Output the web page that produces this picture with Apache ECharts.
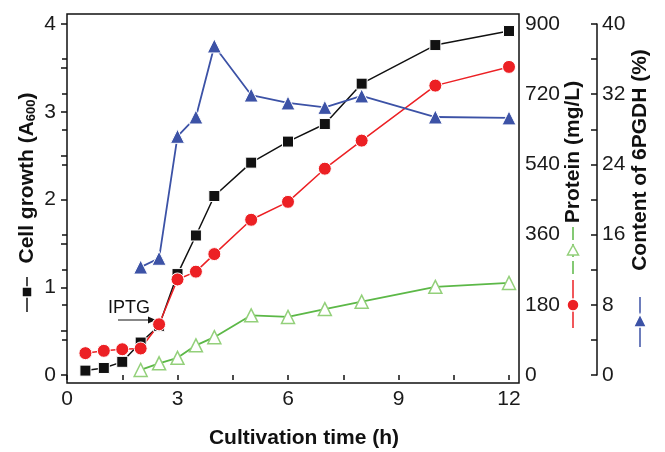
<!DOCTYPE html>
<html>
<head>
<meta charset="utf-8">
<script src="https://cdn.jsdelivr.net/npm/echarts@6/dist/echarts.min.js"></script>
<style>
  html, body { margin: 0; padding: 0; background: #fff; }
  #chart { width: 665px; height: 452px; }
</style>
</head>
<body>
<div id="chart"></div>
<script>
// sampling times (h)
const times = [0.5, 1, 1.5, 2, 2.5, 3, 3.5, 4, 5, 6, 7, 8, 10, 12];
const cellGrowth = [0.05, 0.08, 0.15, 0.37, 0.56, 1.15, 1.59, 2.04, 2.42, 2.66, 2.86, 3.32, 3.76, 3.92];
const totalProtein = [56, 62, 66, 68, 130, 245, 265, 310, 398, 444, 529, 601, 742, 790];
// after induction
const inducedTimes = [2, 2.5, 3, 3.5, 4, 5, 6, 7, 8, 10, 12];
const pgdhProtein = [13, 30, 44, 76, 97, 153, 149, 169, 188, 226, 236];
const pgdhContent = [12.3, 13.3, 27.2, 29.4, 37.5, 31.9, 31.0, 30.5, 31.8, 29.4, 29.3];

const font = 'Liberation Sans, Arial, sans-serif';
const pair = (xs, ys) => xs.map((x, i) => [x, ys[i]]);

const tickLabel = { fontSize: 21, color: '#1a1a1a', fontFamily: font };
const blk = { color: '#111', width: 1.5 };

let option = {
  animation: false,
  grid: { left: 67, right: 156, top: 24, bottom: 77 },
  xAxis: [
    {
      type: 'value', position: 'bottom', offset: 8,
      min: 0, max: 12, interval: 1.5,
      axisLine: { show: false },
      axisTick: { inside: false, length: 5, lineStyle: blk },
      axisLabel: Object.assign({ margin: 6, formatter: v => (v % 3 === 0 ? v : '') }, tickLabel),
      splitLine: { show: false }
    },
    {
      type: 'value', position: 'top', offset: 10,
      min: 0, max: 12, interval: 1.5,
      axisLine: { show: false },
      axisTick: { inside: true, length: 5, lineStyle: blk },
      axisLabel: { show: false },
      splitLine: { show: false }
    }
  ],
  yAxis: [
    {
      type: 'value', position: 'left',
      min: 0, max: 4, interval: 0.5,
      axisLine: { show: false },
      axisTick: { inside: false, length: 6, lineStyle: blk },
      axisLabel: Object.assign({ margin: 11, formatter: v => (v % 1 === 0 ? v : '') }, tickLabel),
      splitLine: { show: false }
    },
    {
      type: 'value', position: 'right', offset: 10,
      min: 0, max: 900, interval: 90,
      axisLine: { show: false },
      axisTick: { inside: true, length: 5, lineStyle: blk },
      axisLabel: Object.assign({ margin: 6, formatter: v => (v % 180 === 0 ? v : '') }, tickLabel),
      splitLine: { show: false }
    },
    {
      type: 'value', position: 'right', offset: 88,
      min: 0, max: 40, interval: 4,
      axisLine: { show: true, lineStyle: blk },
      axisTick: { inside: true, length: 6, lineStyle: blk },
      axisLabel: Object.assign({ margin: 5, formatter: v => (v % 8 === 0 ? v : '') }, tickLabel),
      splitLine: { show: false }
    }
  ],
  series: [
    {
      name: 'Cell growth', type: 'line', yAxisIndex: 0,
      data: pair(times, cellGrowth),
      symbol: 'rect', symbolSize: 11,
      lineStyle: { color: '#111', width: 1.5 },
      itemStyle: { color: '#111', borderColor: '#fff', borderWidth: 1 }
    },
    {
      name: 'Total protein', type: 'line', yAxisIndex: 1,
      data: pair(times, totalProtein),
      symbol: 'circle', symbolSize: 13,
      lineStyle: { color: '#ec2024', width: 1.5 },
      itemStyle: { color: '#ec2024', borderColor: '#fff', borderWidth: 1 }
    },
    {
      name: '6PGDH protein', type: 'line', yAxisIndex: 1,
      data: pair(inducedTimes, pgdhProtein),
      symbol: 'triangle', symbolSize: 13,
      lineStyle: { color: '#5cb847', width: 1.8 },
      itemStyle: { color: '#fff', borderColor: '#93d07a', borderWidth: 1.5 }
    },
    {
      name: 'Content of 6PGDH', type: 'line', yAxisIndex: 2,
      data: pair(inducedTimes, pgdhContent),
      symbol: 'triangle', symbolSize: 14,
      lineStyle: { color: '#3c52a6', width: 1.8 },
      itemStyle: { color: '#3c52a6', borderColor: '#fff', borderWidth: 1 }
    }
  ],
  graphic: [
    // plot frame
    { type: 'rect', z: 50, shape: { x: 67, y: 14, width: 452, height: 369 },
      style: { fill: 'none', stroke: '#111', lineWidth: 1.5 } },
    // x title
    { type: 'text', x: 304, y: 438, style: { text: 'Cultivation time (h)', font: 'bold 21px ' + font,
      fill: '#111', align: 'center', verticalAlign: 'middle' } },
    // left title
    { type: 'text', x: 27, y: 178, rotation: Math.PI / 2,
      style: { text: '{a|Cell growth (A}{s|600}{a|)}', align: 'center', verticalAlign: 'middle',
        rich: { a: { fontSize: 21, fontWeight: 'bold', fontFamily: font, fill: '#111' },
                s: { fontSize: 13, fontWeight: 'bold', fontFamily: font, fill: '#111', padding: [9, 0, 0, 0] } } } },
    { type: 'line', shape: { x1: 27, y1: 277, x2: 27, y2: 312 }, style: { stroke: '#111', lineWidth: 1.5 } },
    { type: 'rect', shape: { x: 22, y: 287, width: 10, height: 10 }, style: { fill: '#111', stroke: '#fff', lineWidth: 1.5 } },
    // protein title
    { type: 'text', x: 573, y: 152, rotation: Math.PI / 2,
      style: { text: 'Protein (mg/L)', font: 'bold 21px ' + font, fill: '#111', align: 'center', verticalAlign: 'middle' } },
    { type: 'line', shape: { x1: 573, y1: 227, x2: 573, y2: 277 }, style: { stroke: '#5cb847', lineWidth: 1.5, lineDash: [13, 4] } },
    { type: 'polygon', shape: { points: [[573, 245], [567.5, 255], [578.5, 255]] }, style: { fill: '#fff', stroke: '#93d07a', lineWidth: 1.5 } },
    { type: 'line', shape: { x1: 573, y1: 280, x2: 573, y2: 328 }, style: { stroke: '#ec2024', lineWidth: 1.5 } },
    { type: 'circle', shape: { cx: 573, cy: 305, r: 6 }, style: { fill: '#ec2024', stroke: '#fff', lineWidth: 1.5 } },
    // 6PGDH title
    { type: 'text', x: 640, y: 160, rotation: Math.PI / 2,
      style: { text: 'Content of 6PGDH (%)', font: 'bold 21px ' + font, fill: '#111', align: 'center', verticalAlign: 'middle' } },
    { type: 'line', shape: { x1: 640, y1: 297, x2: 640, y2: 347 }, style: { stroke: '#3c52a6', lineWidth: 1.5 } },
    { type: 'polygon', shape: { points: [[640, 314], [633.5, 327], [646.5, 327]] }, style: { fill: '#3c52a6', stroke: '#fff', lineWidth: 1.5 } },
    // IPTG annotation
    { type: 'text', x: 129, y: 308, style: { text: 'IPTG', font: '18px ' + font, fill: '#111', align: 'center', verticalAlign: 'middle' } },
    { type: 'line', shape: { x1: 118, y1: 320, x2: 154, y2: 320 }, style: { stroke: '#111', lineWidth: 1.2 } },
    { type: 'polygon', shape: { points: [[156, 320], [148, 316.5], [148, 323.5]] }, style: { fill: '#111' } }
  ]
};

let chart = echarts.init(document.getElementById('chart'));
chart.setOption(option);
</script>
</body>
</html>
